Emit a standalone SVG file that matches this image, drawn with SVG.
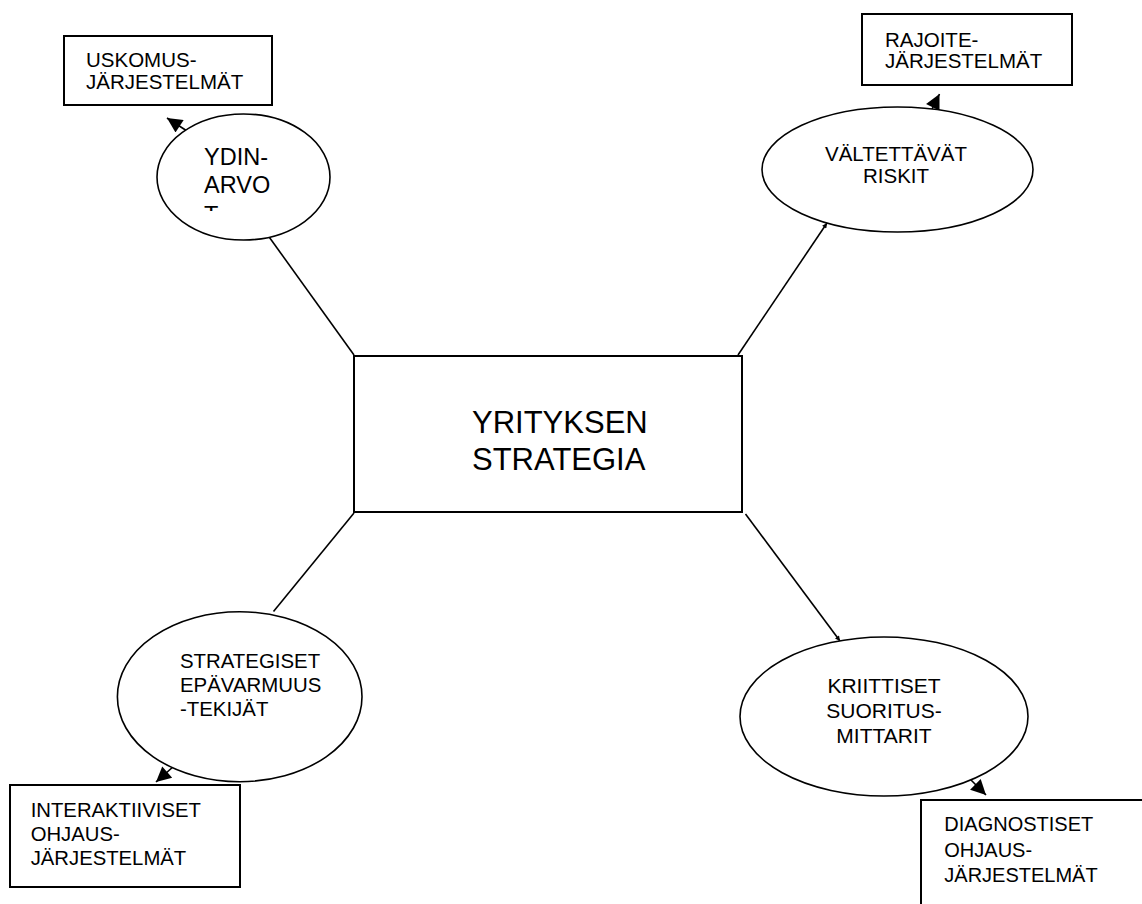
<svg xmlns="http://www.w3.org/2000/svg" width="1142" height="904" viewBox="0 0 1142 904">
<style>
.box{fill:#fff;stroke:#000;stroke-width:2}
.ell{fill:#fff;stroke:#000;stroke-width:1.6}
.t{font-family:"Liberation Sans",Arial,sans-serif;font-size:20.5px;fill:#000}
.te{font-family:"Liberation Sans",Arial,sans-serif;font-size:21px;fill:#000}
.c{stroke:#000;stroke-width:1.6;fill:none}
</style>
<defs>
<marker id="ah" viewBox="0 0 10 10" refX="10" refY="5" markerWidth="17" markerHeight="15" markerUnits="userSpaceOnUse" orient="auto"><path d="M0,0L10,5L0,10z" fill="#000"/></marker>
<marker id="sm" viewBox="0 0 10 10" refX="10" refY="5" markerWidth="6" markerHeight="5" markerUnits="userSpaceOnUse" orient="auto"><path d="M0,0L10,5L0,10z" fill="#000"/></marker>
<clipPath id="ydclip"><rect x="150" y="100" width="200" height="111"/></clipPath>
</defs>
<rect width="1142" height="904" fill="#fff"/>
<g id="connectors">
<line class="c" x1="354" y1="355" x2="269.5" y2="237.5"/>
<line class="c" x1="738" y1="355" x2="827" y2="223" marker-end="url(#sm)"/>
<line class="c" x1="354" y1="513" x2="273.5" y2="611.5"/>
<line class="c" x1="745.5" y1="514" x2="840" y2="641" marker-end="url(#sm)"/>
<line class="c" x1="187" y1="131" x2="167" y2="118" marker-end="url(#ah)"/>
<line class="c" x1="932" y1="109" x2="939.5" y2="94" marker-end="url(#ah)"/>
<line class="c" x1="174" y1="766" x2="156" y2="782" marker-end="url(#ah)"/>
<line class="c" x1="971" y1="780" x2="986" y2="795" marker-end="url(#ah)"/>
</g>
<g id="strategia">
<rect class="box" x="354" y="356" width="388" height="156"/>
<text class="t" style="font-size:31px" x="472" y="433">YRITYKSEN</text>
<text class="t" style="font-size:31px" x="472" y="470">STRATEGIA</text>
</g>
<g id="uskomus">
<rect class="box" x="64" y="36" width="208" height="69"/>
<text class="t" x="86" y="67">USKOMUS-</text>
<text class="t" x="86" y="88.5">JÄRJESTELMÄT</text>
</g>
<g id="ydinarvot">
<ellipse class="ell" cx="243.5" cy="177" rx="86.5" ry="63"/>
<g clip-path="url(#ydclip)">
<text class="t" style="font-size:23.5px" x="204" y="165">YDIN-</text>
<text class="t" style="font-size:23.5px" x="204" y="193.3">ARVO</text>
<text class="t" style="font-size:23.5px" x="204" y="222.5">T</text>
</g>
</g>
<g id="rajoite">
<rect class="box" x="862" y="14" width="210" height="71"/>
<text class="t" x="885" y="46.7">RAJOITE-</text>
<text class="t" x="885" y="68.3">JÄRJESTELMÄT</text>
</g>
<g id="riskit">
<ellipse class="ell" cx="897.5" cy="169.5" rx="135.5" ry="62.5"/>
<text class="te" style="font-size:20.5px" x="896" y="161" text-anchor="middle">VÄLTETTÄVÄT</text>
<text class="te" style="font-size:20.5px" x="896" y="183" text-anchor="middle">RISKIT</text>
</g>
<g id="epavarmuus">
<ellipse class="ell" cx="239.7" cy="696.7" rx="122.3" ry="85"/>
<text class="te" style="font-size:20.4px" x="180" y="667.7">STRATEGISET</text>
<text class="te" style="font-size:20.4px" x="180" y="691.7">EPÄVARMUUS</text>
<text class="te" style="font-size:20.4px" x="180" y="715.7">-TEKIJÄT</text>
</g>
<g id="interaktiiviset">
<rect class="box" x="10" y="785" width="230" height="102"/>
<text class="t" style="font-size:20.3px" x="30.7" y="816.7">INTERAKTIIVISET</text>
<text class="t" style="font-size:20.3px" x="30.7" y="840.5">OHJAUS-</text>
<text class="t" style="font-size:20.3px" x="30.7" y="865">JÄRJESTELMÄT</text>
</g>
<g id="mittarit">
<ellipse class="ell" cx="884" cy="716.5" rx="144" ry="79.5"/>
<text class="te" x="884" y="692.7" text-anchor="middle">KRIITTISET</text>
<text class="te" x="884" y="717.7" text-anchor="middle">SUORITUS-</text>
<text class="te" x="884" y="742.7" text-anchor="middle">MITTARIT</text>
</g>
<g id="diagnostiset">
<rect class="box" x="921" y="800" width="240" height="120"/>
<text class="t" style="font-size:20px" x="944.3" y="831">DIAGNOSTISET</text>
<text class="t" style="font-size:20px" x="944.3" y="856.7">OHJAUS-</text>
<text class="t" style="font-size:20px" x="944.3" y="881.7">JÄRJESTELMÄT</text>
</g>
</svg>
